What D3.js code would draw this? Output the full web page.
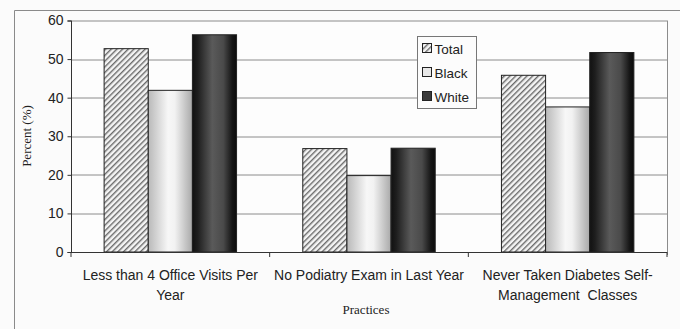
<!DOCTYPE html>
<html>
<head>
<meta charset="utf-8">
<script src="https://cdn.jsdelivr.net/npm/d3@7/dist/d3.min.js"></script>
<style>
  html, body { margin: 0; padding: 0; background: #fbfbfb; }
  svg { display: block; }
  text { white-space: pre; }
</style>
</head>
<body>
<svg id="chart" width="680" height="329"></svg>
<script>
// Practices and percentages by group
const categories = [
  ["Less than 4 Office Visits Per", "Year"],
  ["No Podiatry Exam in Last Year"],
  ["Never Taken Diabetes Self-", "Management  Classes"]
];
const seriesNames = ["Total", "Black", "White"];
const totalValues = [52.7, 26.8, 45.8];
const blackValues = [41.9, 19.8, 37.6];
const whiteValues = [56.3, 26.9, 51.7];
const yTicks = [0, 10, 20, 30, 40, 50, 60];

const values = [totalValues, blackValues, whiteValues];
const svg = d3.select("#chart");
const W = 680, H = 329;
const m = { left: 71, right: 13, top: 20.5, bottom: 77 };
const pw = W - m.left - m.right, ph = H - m.top - m.bottom;

const defs = svg.append("defs");
// Diagonal hatch for Total
const hatch = defs.append("pattern").attr("id", "hatch")
  .attr("patternUnits", "userSpaceOnUse").attr("width", 4).attr("height", 4)
  .attr("patternTransform", "rotate(45)");
hatch.append("rect").attr("width", 4).attr("height", 4).attr("fill", "#f4f4f4");
hatch.append("rect").attr("width", 1.4).attr("height", 4).attr("fill", "#6a6a6a");
// Light cylinder shading for Black
const gB = defs.append("linearGradient").attr("id", "gBlack");
[[0, "#b9b9b9"], [0.45, "#f7f7f7"], [0.6, "#f2f2f2"], [1, "#a9a9a9"]]
  .forEach(([o, c]) => gB.append("stop").attr("offset", o).attr("stop-color", c));
// Dark cylinder shading for White
const gW = defs.append("linearGradient").attr("id", "gWhite");
[[0, "#111"], [0.12, "#1e1e1e"], [0.45, "#5a5a5a"], [0.7, "#4a4a4a"], [0.9, "#161616"], [1, "#0c0c0c"]]
  .forEach(([o, c]) => gW.append("stop").attr("offset", o).attr("stop-color", c));
const fills = ["url(#hatch)", "url(#gBlack)", "url(#gWhite)"];
const legendFills = ["url(#hatch)", "#e8e8e8", "#3a3a3a"];

// Outer frame
svg.append("path").attr("d", `M14.5,${H} V10.5 H${W}`)
  .attr("fill", "none").attr("stroke", "#8a8a8a").attr("stroke-width", 1);

const g = svg.append("g").attr("transform", `translate(${m.left},${m.top})`);
const x = d3.scaleBand().domain(d3.range(categories.length)).range([0, pw]).paddingInner(0).paddingOuter(0);
const y = d3.scaleLinear().domain([0, 60]).range([ph, 0]);
const xs = d3.scaleBand().domain(d3.range(3)).range([0, x.bandwidth()]).paddingInner(0).paddingOuter(0.75);

// Plot area background and gridlines
g.append("rect").attr("width", pw).attr("height", ph).attr("fill", "#fdfdfd");
g.selectAll("line.grid").data(yTicks.filter(t => t > 0)).join("line")
  .attr("x1", 0).attr("x2", pw)
  .attr("y1", d => Math.round(y(d)) + 0.5).attr("y2", d => Math.round(y(d)) + 0.5)
  .attr("stroke", "#8c8c8c").attr("stroke-width", 1);
g.append("line").attr("x1", pw + 0.5).attr("x2", pw + 0.5).attr("y1", 0).attr("y2", ph + 3)
  .attr("stroke", "#8c8c8c");

// Bars
const groups = g.selectAll("g.cat").data(categories).join("g")
  .attr("transform", (d, i) => `translate(${x(i)},0)`);
groups.each(function (d, ci) {
  d3.select(this).selectAll("rect").data(values.map((s, si) => ({ si, v: s[ci] }))).join("rect")
    .attr("x", b => xs(b.si)).attr("width", xs.bandwidth())
    .attr("y", b => y(b.v)).attr("height", b => ph - y(b.v))
    .attr("fill", b => fills[b.si]).attr("stroke", "#222").attr("stroke-width", 1);
});

// Y axis
const yAxis = g.append("g").attr("transform", "translate(0.5,0)")
  .call(d3.axisLeft(y).tickValues(yTicks).tickSize(4).tickPadding(4));
yAxis.select(".domain").attr("stroke", "#333").attr("d", `M-4,${ph + 0.5}H0V0.5H-4`);
yAxis.selectAll(".tick line").attr("stroke", "#333");
yAxis.selectAll("text").attr("font-family", "'Liberation Sans', Arial, sans-serif")
  .attr("font-size", 14).attr("fill", "#222");

// X axis baseline and category ticks
g.append("line").attr("x1", 0).attr("x2", pw).attr("y1", ph + 0.5).attr("y2", ph + 0.5).attr("stroke", "#333");
g.selectAll("line.xt").data(d3.range(categories.length + 1)).join("line")
  .attr("x1", i => i * x.bandwidth()).attr("x2", i => i * x.bandwidth())
  .attr("y1", ph).attr("y2", ph + 5).attr("stroke", "#333");

// Category labels
g.selectAll("text.cat").data(categories).join("text")
  .attr("text-anchor", "middle")
  .attr("font-family", "'Liberation Sans', Arial, sans-serif").attr("font-size", 14).attr("fill", "#222")
  .attr("transform", (d, i) => `translate(${x(i) + x.bandwidth() / 2},${ph + 28})`)
  .each(function (d) {
    d3.select(this).selectAll("tspan").data(d).join("tspan")
      .attr("x", 0).attr("dy", (t, j) => j === 0 ? 0 : 20).text(t => t);
  });

// Axis titles
svg.append("text").attr("x", 366).attr("y", 314).attr("text-anchor", "middle")
  .attr("font-family", "'Liberation Serif', 'Times New Roman', serif").attr("font-size", 13)
  .attr("fill", "#222").text("Practices");
svg.append("text").attr("transform", "translate(31,136) rotate(-90)").attr("text-anchor", "middle")
  .attr("font-family", "'Liberation Serif', 'Times New Roman', serif").attr("font-size", 13)
  .attr("fill", "#222").text("Percent (%)");

// Legend
const lg = svg.append("g").attr("transform", "translate(417.5,36.5)");
lg.append("rect").attr("width", 59).attr("height", 72).attr("fill", "#fcfcfc").attr("stroke", "#777");
seriesNames.forEach((n, i) => {
  const row = lg.append("g").attr("transform", `translate(5,${12 + i * 24})`);
  row.append("rect").attr("x", 0).attr("y", -5).attr("width", 9).attr("height", 9)
    .attr("fill", legendFills[i]).attr("stroke", "#222");
  row.append("text").attr("x", 12).attr("y", 5)
    .attr("font-family", "'Liberation Sans', Arial, sans-serif").attr("font-size", 13.5)
    .attr("fill", "#222").text(n);
});
</script>
</body>
</html>
